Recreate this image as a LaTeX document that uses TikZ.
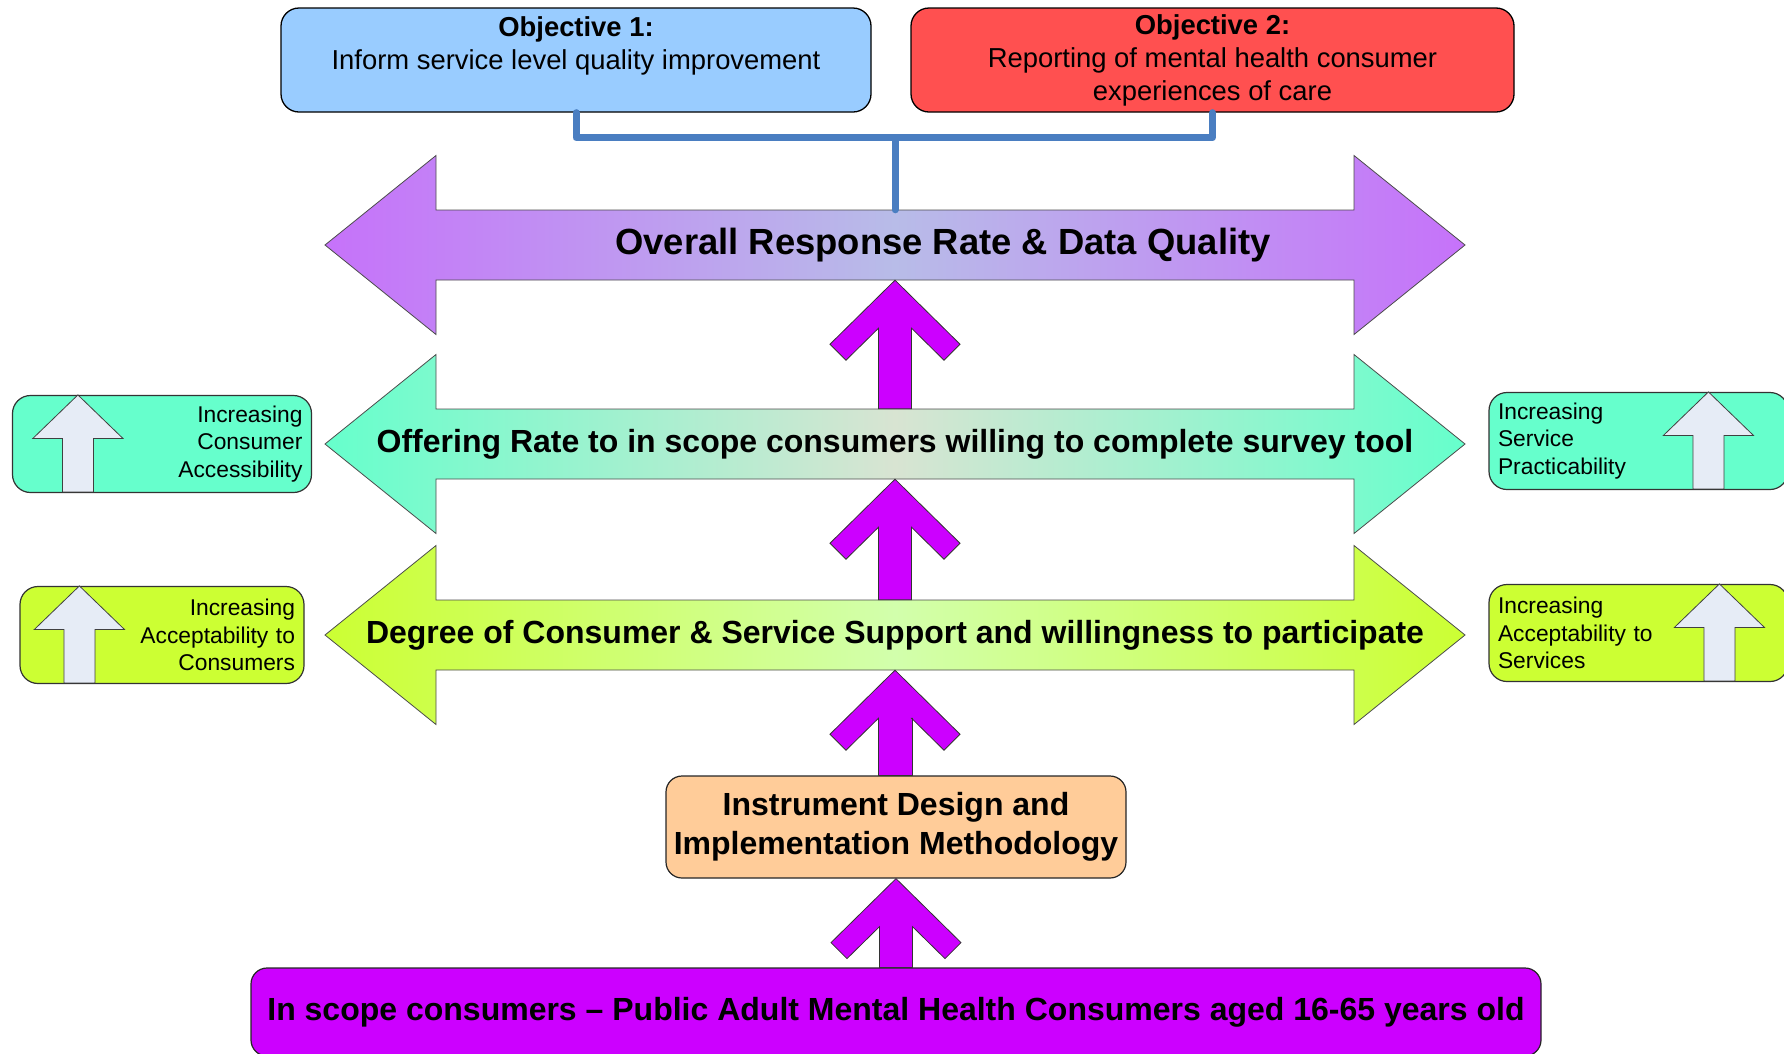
\documentclass[tikz,border=0pt]{standalone}
\usepackage{fontspec}
\setmainfont{Liberation Sans}
\usepackage{tikz}
\usetikzlibrary{calc}

\definecolor{objblue}{RGB}{153,204,255}
\definecolor{objred}{RGB}{255,80,80}
\definecolor{linkblue}{RGB}{74,126,193}
\definecolor{bandpurple}{RGB}{198,114,250}
\definecolor{bandpurplemid}{RGB}{184,188,232}
\definecolor{bandteal}{RGB}{102,255,204}
\definecolor{bandtealmid}{RGB}{216,228,210}
\definecolor{bandlime}{RGB}{204,255,51}
\definecolor{bandlimemid}{RGB}{210,255,172}
\definecolor{pushmagenta}{RGB}{204,0,255}
\definecolor{liftgrey}{RGB}{230,236,246}
\definecolor{methodpeach}{RGB}{255,204,153}

\tikzset{
  objbox/.style={draw=black,line width=1.3pt,rounded corners=18pt,minimum width=590pt,minimum height=104pt,align=center,font=\fontsize{27.4}{33}\selectfont},
  bandtext/.style={inner sep=0pt,minimum width=918pt,minimum height=70pt,font=\bfseries\fontsize{32}{38.4}\selectfont},
  sidebox/.style={draw=black!80,line width=1.2pt,rounded corners=18pt,minimum height=97pt,inner xsep=9pt,text width=281pt,font=\fontsize{22.8}{27.3}\selectfont},
  liftarrow/.style={fill=liftgrey,draw=black!75,line width=0.8pt},
  push/.style={fill=pushmagenta,draw=black!80,line width=0.8pt},
  link/.style={draw=linkblue,line width=7pt,line cap=round,line join=round},
  levelbox/.style={draw=black!85,line width=1.2pt,rounded corners=16pt,align=center,font=\bfseries\fontsize{32}{38.7}\selectfont}
}

\newcommand{\bandarrow}[5]{%
  \shadedraw[left color=#3,right color=#3,middle color=#4,draw=black!70,line width=0.8pt]
    ([shift={(-459,-35)}]#2) -- ++(918,0) -- ++(0,-54.5) -- ++(111,89.5) -- ++(-111,89.5)
    -- ++(0,-54.5) -- ++(-918,0) -- ++(0,54.5) -- ++(-111,-89.5) -- ++(111,-89.5) -- cycle;
  \node[bandtext] (#1) at (#2) {#5};}

\newcommand{\pusharrow}[2]{%
  \draw[push] (#2.south) -- ++(-65,64) -- ++(16,16) -- ++(32.5,-32) |- (#1.north)
    -- ++(16.5,0) |- ($(#2.south)+(16.5,48)$) -- ++(32.5,32) -- ++(16,-16) -- cycle;}

\newcommand{\liftarrow}[2]{%
  \filldraw[liftarrow] ([xshift=#2pt]#1.north west) -- ++(-45,43.5) -- ++(29.5,0) -- ++(0,53.5)
    -- ++(31,0) -- ++(0,-53.5) -- ++(29.5,0) -- cycle;}

\begin{document}
\begin{tikzpicture}[x=1pt,y=-1pt]
\useasboundingbox (0,0) rectangle (1784,1053);
\clip (0,0) rectangle (1784,1053);

\node[objbox,fill=objblue] (obj1) at (576,60) {\textbf{Objective 1:}\\Inform service level quality improvement\\\mbox{}};
\node[objbox,fill=objred,minimum width=603pt] (obj2) at (1212.5,60) {\textbf{Objective 2:}\\Reporting of mental health consumer\\experiences of care};

\bandarrow{overall}{895,245}{bandpurple}{bandpurplemid}{\hspace*{96pt}\fontsize{36.4}{43}\selectfont Overall Response Rate \& Data Quality}
\bandarrow{offering}{895,444}{bandteal}{bandtealmid}{Offering Rate to in scope consumers willing to complete survey tool}
\bandarrow{degree}{895,635}{bandlime}{bandlimemid}{Degree of Consumer \& Service Support and willingness to participate}

\node[levelbox,fill=methodpeach,minimum width=460pt,minimum height=102pt] (method) at (896,827) {Instrument Design and\\Implementation Methodology};
\node[levelbox,fill=pushmagenta,minimum width=1290pt,minimum height=88pt] (scope) at (896,1012) {In scope consumers -- Public Adult Mental Health Consumers aged 16-65 years old};

\draw[link] (obj1.south) -- ++(0,25) coordinate (split) -| (obj2.south);
\draw[link] (overall.north) -- (overall.north |- split);

\pusharrow{offering}{overall}
\pusharrow{degree}{offering}
\pusharrow{method}{degree}
\pusharrow{scope}{method}

\node[sidebox,fill=bandteal,align=right] (access) at (162,444) {Increasing\\Consumer\\Accessibility};
\node[sidebox,fill=bandlime,align=right,text width=266pt] (acceptcons) at (162,635) {Increasing\\Acceptability to\\Consumers};
\node[sidebox,fill=bandteal,align=left] (practic) at (1638.5,441) {Increasing\\Service\\Practicability};
\node[sidebox,fill=bandlime,align=left] (acceptserv) at (1638.5,633) {Increasing\\Acceptability to\\Services};

\liftarrow{access}{66}
\liftarrow{acceptcons}{60}
\liftarrow{practic}{220}
\liftarrow{acceptserv}{231}
\end{tikzpicture}
\end{document}
